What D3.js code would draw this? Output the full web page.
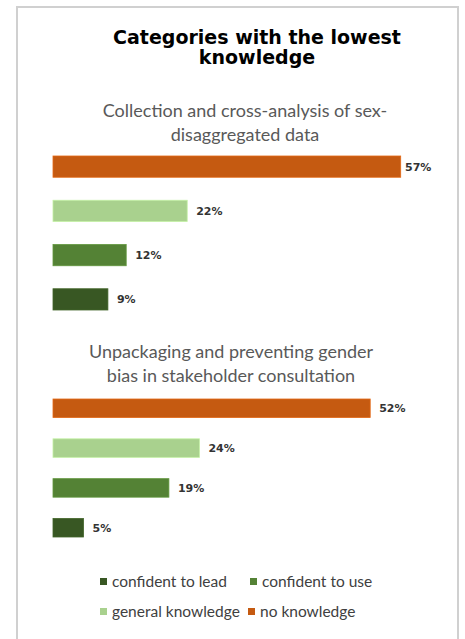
<!DOCTYPE html>
<html>
<head>
<meta charset="utf-8">
<script src="https://cdn.jsdelivr.net/npm/d3@7"></script>
<style>
  html, body { margin: 0; padding: 0; background: #fff; }
</style>
</head>
<body>
<div id="canvas"></div>
<script>
// --- data
var titleLines = ["Categories with the lowest", "knowledge"];
var categories = ["no knowledge", "general knowledge", "confident to use", "confident to lead"];
var legendOrder = ["confident to lead", "confident to use", "general knowledge", "no knowledge"];
var topic1Lines = ["Collection and cross-analysis of sex-", "disaggregated data"];
var topic1Values = [57, 22, 12, 9];
var topic2Lines = ["Unpackaging and preventing gender", "bias in stakeholder consultation"];
var topic2Values = [52, 24, 19, 5];

var W = 465, H = 639;
var colors = d3.scaleOrdinal()
  .domain(categories)
  .range(["#c55a11", "#a9d18e", "#548235", "#385723"]);

var svg = d3.select('#canvas')
  .append('svg')
  .attr('width', W)
  .attr('height', H);

// --- frame (bottom edge is cut off in the original)
svg.append('path')
  .attr('d', 'M17,' + (H + 2) + 'V7H458V' + (H + 2))
  .attr('fill', 'none')
  .attr('stroke', '#d0d0d0')
  .attr('stroke-width', 2);

// --- title
svg.append('text')
  .attr('x', 257)
  .attr('y', 44)
  .attr('text-anchor', 'middle')
  .attr('font-family', 'DejaVu Sans, sans-serif')
  .attr('font-weight', 'bold')
  .attr('font-size', '19px')
  .attr('fill', '#000')
  .selectAll('tspan')
  .data(titleLines)
  .enter().append('tspan')
  .attr('x', 257)
  .attr('dy', function(d, i){ return i ? 20 : 0; })
  .text(function(d){ return d; });

// --- shared x scale
var x = d3.scaleLinear()
  .domain([0, 100])
  .range([53, 663]);

function drawPanel(lines, values, cx, titleY, yRange, pad) {
  var g = svg.append('g');

  g.append('text')
    .attr('x', cx)
    .attr('y', titleY)
    .attr('text-anchor', 'middle')
    .attr('font-family', 'Lato, sans-serif')
    .attr('font-size', '18px')
    .attr('fill', '#595959')
    .selectAll('tspan')
    .data(lines)
    .enter().append('tspan')
    .attr('x', cx)
    .attr('dy', function(d, i){ return i ? 24 : 0; })
    .text(function(d){ return d; });

  var y = d3.scaleBand()
    .domain(categories)
    .range(yRange)
    .paddingInner(pad)
    .paddingOuter(0);

  var rows = categories.map(function(c, i){ return {cat: c, v: values[i]}; });

  g.selectAll('rect')
    .data(rows)
    .enter().append('rect')
    .attr('x', x(0))
    .attr('y', function(d){ return y(d.cat); })
    .attr('width', function(d){ return x(d.v) - x(0); })
    .attr('height', y.bandwidth())
    .attr('fill', function(d){ return colors(d.cat); })
    .attr('stroke', function(d){ return d3.color(colors(d.cat)).brighter(0.4); })
    .attr('stroke-width', 0.8);

  g.selectAll('text.val')
    .data(rows)
    .enter().append('text')
    .attr('class', 'val')
    .attr('x', function(d){ return Math.min(x(d.v) + 9, 405); })
    .attr('y', function(d){ return y(d.cat) + y.bandwidth() / 2 + 4; })
    .attr('font-family', 'DejaVu Sans, sans-serif')
    .attr('font-weight', 'bold')
    .attr('font-size', '11px')
    .attr('fill', '#333')
    .text(function(d){ return d.v + '%'; });
}

drawPanel(topic1Lines, topic1Values, 245, 117, [156, 310], 0.52);
drawPanel(topic2Lines, topic2Values, 231, 358, [399, 537], 0.535);

// --- legend
var legendPos = [{x: 100, y: 582}, {x: 250, y: 582}, {x: 100, y: 612}, {x: 248, y: 612}];
var leg = svg.selectAll('g.leg')
  .data(legendOrder)
  .enter().append('g')
  .attr('class', 'leg')
  .attr('transform', function(d, i){ return 'translate(' + legendPos[i].x + ',' + legendPos[i].y + ')'; });

leg.append('rect')
  .attr('x', 0)
  .attr('y', -4)
  .attr('width', 7)
  .attr('height', 7)
  .attr('fill', function(d){ return colors(d); });

leg.append('text')
  .attr('x', 12)
  .attr('y', 5)
  .attr('font-family', 'Lato, sans-serif')
  .attr('font-size', '15.5px')
  .attr('fill', '#404040')
  .text(function(d){ return d; });
</script>
</body>
</html>
